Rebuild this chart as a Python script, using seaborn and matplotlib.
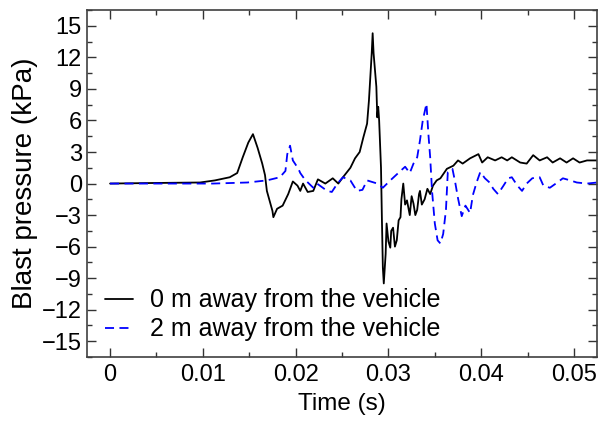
import numpy as np
import pandas as pd
import matplotlib
matplotlib.use('Agg')
import matplotlib.pyplot as plt
import seaborn as sns
from matplotlib.ticker import MultipleLocator

# 0 m away from the vehicle (time in s, pressure in kPa)
t_0m = [0.0, 0.0043, 0.0097, 0.0113, 0.0129, 0.0137, 0.0143, 0.0149, 0.0154, 0.0159,
        0.0164, 0.0167, 0.0169, 0.0175, 0.0176, 0.0180, 0.0186, 0.0192, 0.0197, 0.0202,
        0.0205, 0.0208, 0.0213, 0.0219, 0.0224, 0.0232, 0.0240, 0.0246, 0.0251, 0.0259,
        0.0264, 0.0269, 0.0273, 0.0277, 0.0279, 0.0282, 0.0283, 0.0284, 0.0287, 0.0288,
        0.0289, 0.0290, 0.0292, 0.0293, 0.0294, 0.0295, 0.0297, 0.0298, 0.0300, 0.0302,
        0.0303, 0.0305, 0.0307, 0.0309, 0.0311, 0.0313, 0.0314, 0.0316, 0.0318, 0.0320,
        0.0323, 0.0325, 0.0327, 0.0329, 0.0331, 0.0333, 0.0334, 0.0336, 0.0339, 0.0342,
        0.0345, 0.0348, 0.0352, 0.0356, 0.0363, 0.0370, 0.0375, 0.0380, 0.0388, 0.0397,
        0.0401, 0.0407, 0.0415, 0.0422, 0.0428, 0.0433, 0.0442, 0.0449, 0.0456, 0.0463,
        0.0471, 0.0477, 0.0485, 0.0492, 0.0499, 0.0506, 0.0514, 0.0525]
p_0m = [0.0, 0.05, 0.1, 0.3, 0.6, 1.0, 2.5, 3.9, 4.7, 3.4,
        1.9, 0.8, -0.7, -2.6, -3.2, -2.4, -2.1, -1.0, 0.2, -0.2,
        -0.7, 0.0, -0.8, -0.7, 0.4, 0.0, 0.5, 0.0, 0.6, 1.5,
        2.4, 3.0, 4.4, 5.7, 7.9, 12.4, 14.3, 12.4, 9.2, 6.3,
        7.3, 6.0, 1.5, -3.5, -8.0, -9.5, -6.7, -3.8, -5.5, -6.1,
        -4.5, -4.2, -6.0, -5.4, -3.5, -3.2, -1.5, 0.0, -2.0, -1.6,
        -3.0, -1.2, -1.9, -3.0, -2.5, -1.0, -0.7, -2.0, -1.5, -0.5,
        -1.0, -0.2, 0.3, 0.5, 1.4, 1.7, 2.2, 1.9, 2.4, 2.8,
        2.0, 2.5, 2.2, 2.5, 2.2, 2.5, 2.0, 1.9, 2.7, 2.2,
        2.5, 2.0, 2.4, 2.0, 2.4, 2.0, 2.2, 2.2]

# 2 m away from the vehicle
t_2m = [0.0, 0.0111, 0.0148, 0.0169, 0.0183, 0.0189, 0.0191, 0.0194, 0.0197, 0.0203,
        0.0205, 0.0209, 0.0212, 0.0219, 0.0223, 0.0234, 0.0239, 0.0245, 0.0251, 0.0259,
        0.0266, 0.0272, 0.0277, 0.0288, 0.0294, 0.0302, 0.0313, 0.0318, 0.0323, 0.0327,
        0.0331, 0.0334, 0.0337, 0.0341, 0.0343, 0.0345, 0.0347, 0.0350, 0.0353, 0.0356,
        0.0359, 0.0362, 0.0364, 0.0369, 0.0372, 0.0375, 0.0379, 0.0383, 0.0388, 0.0391,
        0.0395, 0.0399, 0.0404, 0.0409, 0.0413, 0.0418, 0.0424, 0.0429, 0.0433, 0.0439,
        0.0444, 0.0449, 0.0455, 0.0460, 0.0463, 0.0467, 0.0474, 0.0482, 0.0488, 0.0496,
        0.0503, 0.0514, 0.0525]
p_2m = [0.0, 0.0, 0.1, 0.3, 0.6, 1.2, 2.8, 3.6, 2.2, 1.4,
        1.0, 0.5, 0.2, -0.4, 0.0, -0.7, -0.8, 0.0, 0.6, 0.3,
        -0.7, -0.6, 0.3, 0.0, -0.4, 0.3, 1.2, 1.6, 1.0, 1.9,
        2.5, 4.1, 6.0, 7.6, 4.8, 2.5, -0.7, -3.8, -5.4, -5.7,
        -4.8, -2.5, 1.1, 1.4, 0.1, -1.4, -3.1, -2.1, -2.8, -1.1,
        0.1, 1.1, 0.5, 0.1, -0.5, -1.0, -0.2, 0.5, 0.6, -0.2,
        -0.7, 0.0, 0.5, 0.6, 0.6, -0.2, -0.4, 0.1, 0.5, 0.3,
        0.1, 0.0, 0.1]

labels = ['0 m away from the vehicle', '2 m away from the vehicle']

df = pd.concat([
    pd.DataFrame({'Time': t_0m, 'Pressure': p_0m, 'Case': labels[0]}),
    pd.DataFrame({'Time': t_2m, 'Pressure': p_2m, 'Case': labels[1]}),
], ignore_index=True)

sns.set_style('ticks')
plt.rcParams['font.family'] = ['Liberation Sans', 'DejaVu Sans']
plt.rcParams['text.color'] = 'black'
plt.rcParams['axes.labelcolor'] = 'black'

fig, ax = plt.subplots(figsize=(5.99, 4.21), dpi=100)
fig.subplots_adjust(left=0.145, right=0.997, top=0.976, bottom=0.152)

sns.lineplot(data=df, x='Time', y='Pressure', hue='Case', style='Case',
             palette=['black', 'blue'], dashes=[(None, None), (5, 3)],
             sort=False, estimator=None, linewidth=1.3, ax=ax)

ax.set_xlim(-0.0025, 0.0525)
ax.set_ylim(-16.5, 16.5)
ax.xaxis.set_minor_locator(MultipleLocator(0.005))
ax.set_xticks([0, 0.01, 0.02, 0.03, 0.04, 0.05])
ax.set_xticklabels(['0', '0.01', '0.02', '0.03', '0.04', '0.05'])
ax.yaxis.set_major_locator(MultipleLocator(3))
ax.yaxis.set_minor_locator(MultipleLocator(1.5))

ax.tick_params(which='both', direction='in', top=True, right=True, colors='#333333',
               labelcolor='black', labelsize=17)
ax.tick_params(which='major', length=6.5, width=1.0)
ax.tick_params(which='minor', length=3.5, width=1.0)
ax.tick_params(axis='x', which='major', pad=5)
ax.tick_params(axis='y', which='major', pad=3.5)
for s in ax.spines.values():
    s.set_color('#404040')
    s.set_linewidth(1.2)

ax.set_xlabel('Time (s)', fontsize=17.5, labelpad=5)
ax.set_ylabel('Blast pressure (kPa)', fontsize=20, labelpad=3)

leg = ax.legend(loc='lower left', bbox_to_anchor=(0.035, 0.045), frameon=False,
                fontsize=18, handlelength=1.12, handletextpad=0.68, labelspacing=0.2,
                borderpad=0, borderaxespad=0)

plt.savefig('out.png', dpi=100)
